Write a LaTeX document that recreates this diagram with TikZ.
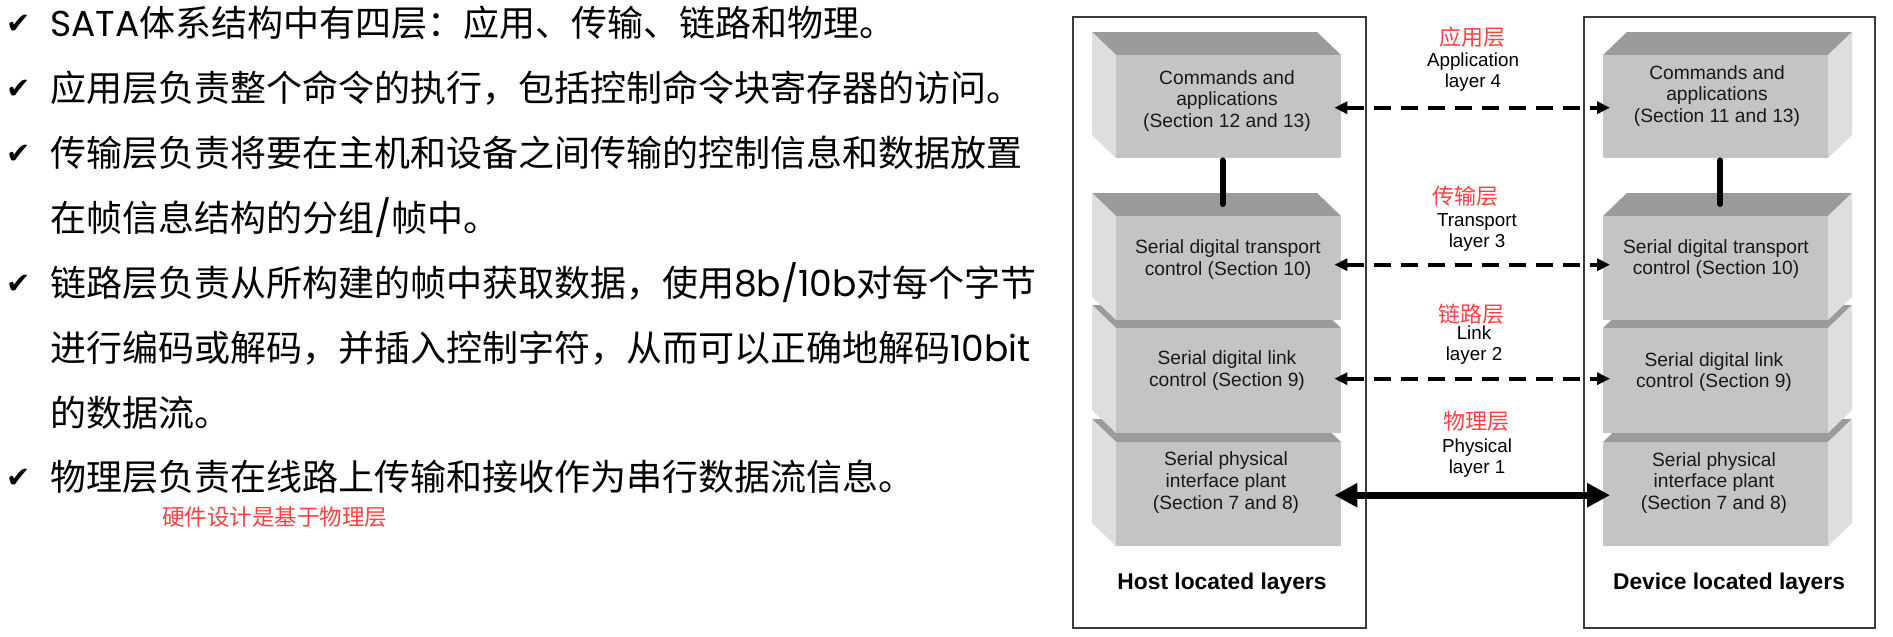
\documentclass[tikz,border=0pt]{standalone}
\usepackage{fontspec}
\setmainfont{Liberation Sans}
\newfontfamily\cjk{Noto Sans CJK SC}
\newfontfamily\lat{Poppins}
\newfontfamily\sym{DejaVu Sans}
\usetikzlibrary{arrows.meta}
\definecolor{topC}{HTML}{9B9B9B}
\definecolor{sideC}{HTML}{DEDEDE}
\definecolor{faceC}{HTML}{C4C4C4}
\definecolor{redC}{HTML}{FF4040}
\definecolor{frameC}{HTML}{3A3A3A}
\newcommand\hostblock[3]{%
  \fill[topC] (1116,#2) -- ++(-24,-23) -- ++(225,0) -- (1341,#2) -- cycle;
  \fill[sideC] (1116,#2) -- ++(-24,-23) -- ++(0,#3) -- (1116,#2+#3) -- cycle;
  \node[face, anchor=north west, minimum height=#3pt] (#1) at (1116,#2) {};}
\newcommand\devblock[3]{%
  \fill[topC] (1603,#2) -- ++(24,-23) -- ++(225,0) -- (1828,#2) -- cycle;
  \fill[sideC] (1828,#2) -- ++(24,-23) -- ++(0,#3) -- (1828,#2+#3) -- cycle;
  \node[face, anchor=north west, minimum height=#3pt] (#1) at (1603,#2) {};}
\begin{document}
\begin{tikzpicture}[x=1pt,y=-1pt,
  leftline/.style={anchor=west, inner sep=0pt, font=\cjk\fontsize{36}{40}\selectfont},
  chk/.style={inner sep=0pt, font=\sym\fontsize{29}{32}\selectfont},
  note/.style={anchor=west, inner sep=0pt, text=redC, font=\cjk\fontsize{22.5}{26}\selectfont},
  face/.style={fill=faceC, inner sep=0pt, minimum width=225pt},
  frame/.style={draw=frameC, line width=1.8pt, fill=white, inner sep=0pt, anchor=north west},
  blocktext/.style={align=center, inner sep=0pt, font=\fontsize{19.2}{21.7}\selectfont, text=black!90},
  redlab/.style={inner sep=0pt, text=redC, font=\cjk\fontsize{22}{26}\selectfont},
  lablab/.style={align=center, inner sep=0pt, font=\fontsize{18.8}{21}\selectfont},
  framelab/.style={inner sep=0pt, font=\bfseries\fontsize{22.8}{26}\selectfont},
  dasharr/.style={line width=4pt, dash pattern=on 17pt off 10pt, {Triangle[length=13pt,width=12pt]}-{Triangle[length=13pt,width=12pt]}, shorten <=-7pt, shorten >=-7pt},
  thickarr/.style={line width=7pt, {Triangle[length=23pt,width=23pt]}-{Triangle[length=23pt,width=23pt]}, shorten <=-7pt, shorten >=-7pt},
  conn/.style={line width=6pt, line cap=round}]
\useasboundingbox (0,0) rectangle (1893,637);

% ---- left text ----
\node[chk] (c1) at (19,24) {✔};
\node[leftline] (t1) at (50,23) {{\lat SATA}体系结构中有四层：应用、传输、链路和物理。};
\node[chk] (c2) at (19,89.5) {✔};
\node[leftline] (t2) at (50,88.5) {应用层负责整个命令的执行，包括控制命令块寄存器的访问。};
\node[chk] (c3) at (19,154) {✔};
\node[leftline] (t3) at (50,153) {传输层负责将要在主机和设备之间传输的控制信息和数据放置};
\node[leftline] (t4) at (50,218) {在帧信息结构的分组{\lat /}帧中。};
\node[chk] (c5) at (19,284) {✔};
\node[leftline] (t5) at (50,283) {链路层负责从所构建的帧中获取数据，使用{\lat 8b/10b}对每个字节};
\node[leftline] (t6) at (50,348) {进行编码或解码，并插入控制字符，从而可以正确地解码{\lat 10bit}};
\node[leftline] (t7) at (50,413) {的数据流。};
\node[chk] (c8) at (19,478) {✔};
\node[leftline] (t8) at (50,477) {物理层负责在线路上传输和接收作为串行数据流信息。};
\node[note] (n1) at (162,517) {硬件设计是基于物理层};

% ---- frames ----
\node[frame, minimum width=293pt, minimum height=611pt] (hostF) at (1072,16) {};
\node[frame, minimum width=291pt, minimum height=611pt] (devF) at (1583,16) {};

% ---- host blocks (bottom first) ----
\hostblock{hP}{442}{104}
\hostblock{hL}{328}{105}
\hostblock{hT}{216}{104}
\hostblock{hA}{55}{103}

% ---- device blocks ----
\devblock{dP}{442}{104}
\devblock{dL}{328}{105}
\devblock{dT}{216}{104}
\devblock{dA}{55}{103}

% ---- block texts ----
\node[blocktext] (hAt) at (1227,101) {Commands and\\applications\\(Section 12 and 13)};
\node[blocktext] (hTt) at (1228,259.5) {Serial digital transport\\control (Section 10)};
\node[blocktext] (hLt) at (1227,370.5) {Serial digital link\\control (Section 9)};
\node[blocktext] (hPt) at (1226,482.5) {Serial physical\\interface plant\\(Section 7 and 8)};
\node[blocktext] (dAt) at (1717,96) {Commands and\\applications\\(Section 11 and 13)};
\node[blocktext] (dTt) at (1716,259) {Serial digital transport\\control (Section 10)};
\node[blocktext] (dLt) at (1714,372) {Serial digital link\\control (Section 9)};
\node[blocktext] (dPt) at (1714,483) {Serial physical\\interface plant\\(Section 7 and 8)};

% ---- frame labels ----
\node[framelab] (hostL) at (1222,584) {Host located layers};
\node[framelab] (devL) at (1729,584) {Device located layers};

% ---- connectors inside stacks ----
\draw[conn] ([xshift=-6pt,yshift=-2pt]hA.south) -- ([xshift=-6pt,yshift=12pt]hT.north);
\draw[conn] ([xshift=4.5pt,yshift=-2pt]dA.south) -- ([xshift=4.5pt,yshift=12pt]dT.north);

% ---- layer arrows ----
\draw[dasharr] ([yshift=-1pt]hA.east) -- ([yshift=-1pt]dA.west);
\draw[dasharr] ([yshift=3.5pt]hT.east) -- ([yshift=3.5pt]dT.west);
\draw[dasharr] ([yshift=2pt]hL.east) -- ([yshift=2pt]dL.west);
\draw[thickarr] ([yshift=-1pt]hP.east) -- ([yshift=-1pt]dP.west);

% ---- layer labels ----
\node[redlab] (rA) at (1472,37) {应用层};
\node[lablab] (lA) at (1473,72.5) {Application\\layer 4};
\node[redlab] (rT) at (1465,196) {传输层};
\node[lablab] (lT) at (1477,232) {Transport\\layer 3};
\node[redlab] (rL) at (1471,314) {链路层};
\node[lablab] (lL) at (1474,345.5) {Link\\layer 2};
\node[redlab] (rP) at (1476,421) {物理层};
\node[lablab] (lP) at (1477,458) {Physical\\layer 1};
\end{tikzpicture}
\end{document}
